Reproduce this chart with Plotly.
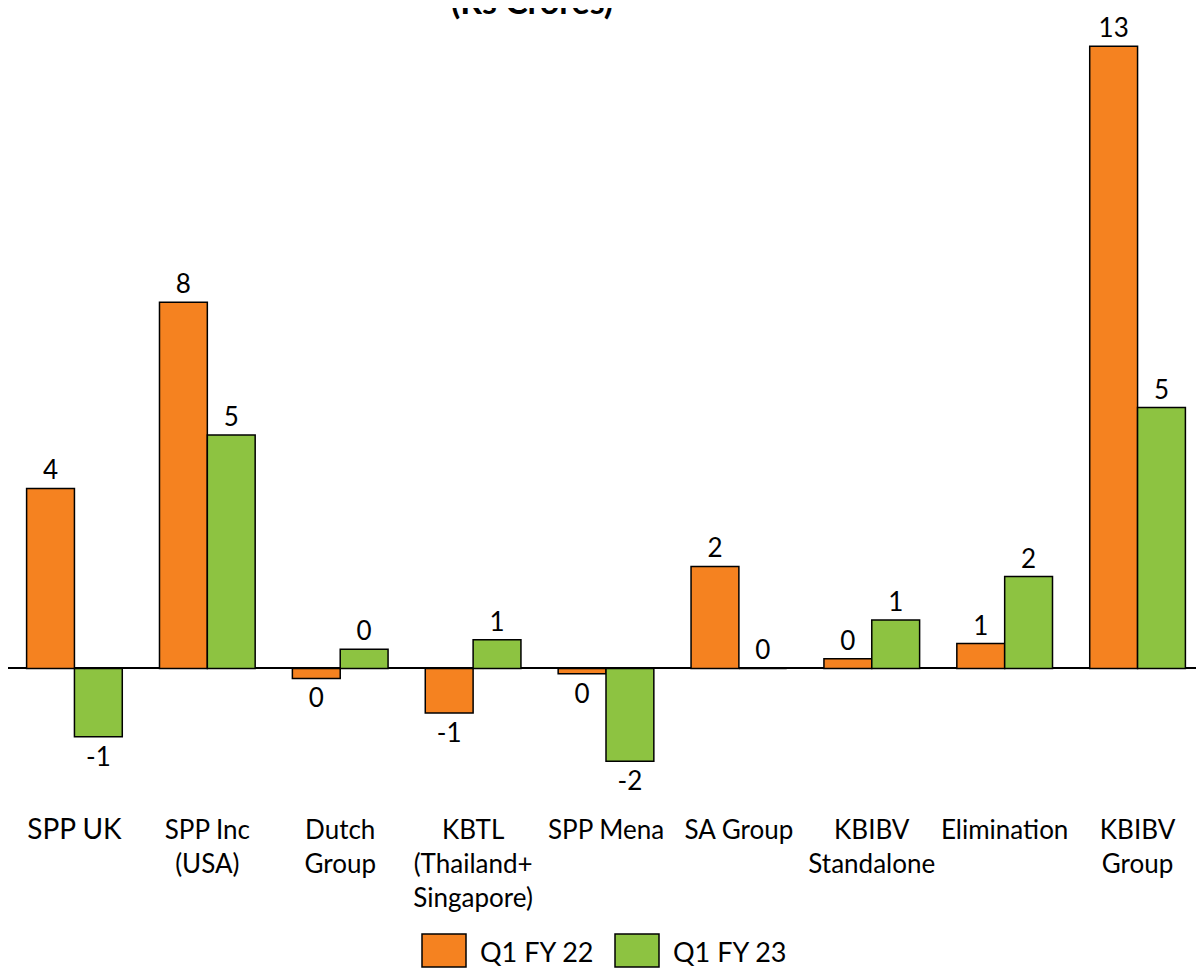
import plotly.graph_objects as go
import math

categories = ["SPP UK", "SPP Inc<br>(USA)", "Dutch<br>Group", "KBTL<br>(Thailand+<br>Singapore)",
              "SPP Mena", "SA Group", "KBIBV<br>Standalone", "Elimination", "KBIBV<br>Group"]
tick_labels = ["<span style='font-size:28px'>SPP UK</span>", "SPP Inc<br>(USA)", "Dutch<br>Group",
               "KBTL<br>(Thailand+<br>Singapore)", "SPP Mena", "SA Group", "KBIBV<br>Standalone",
               "Elimination", "KBIBV<br>Group"]
q1_fy22 = [3.76, 7.65, -0.21, -0.93, -0.11, 2.13, 0.20, 0.52, 13.0]
q1_fy23 = [-1.43, 4.88, 0.40, 0.60, -1.94, 0.0, 1.01, 1.92, 5.45]
series_names = ["Q1 FY 22", "Q1 FY 23"]
colors = ["#F58220", "#8DC341"]


def lab(v):
    return str(int(math.floor(v + 0.5)))


FONT = "Lato"
fig = go.Figure()
for name, vals, col in zip(series_names, [q1_fy22, q1_fy23], colors):
    fig.add_trace(go.Bar(
        x=categories, y=vals, name=name,
        marker=dict(color=col, line=dict(color="black", width=1.5)),
        text=[lab(v) for v in vals], textposition="outside",
        textfont=dict(family=FONT, size=26, color="black"),
        cliponaxis=False, showlegend=False,
    ))

# the page adds an 8px body margin, so the figure is sized 1196x966
fig.update_layout(
    width=1196, height=966,
    margin=dict(l=0, r=0, t=12, b=174),
    paper_bgcolor="white", plot_bgcolor="white",
    barmode="group", bargap=0.28, bargroupgap=0,
    font=dict(family=FONT, size=26, color="black"),
    xaxis=dict(tickmode="array", tickvals=categories, ticktext=tick_labels,
               showline=False, showgrid=False, ticks="", ticklabelstandoff=12,
               tickfont=dict(family=FONT, size=26, color="black")),
    yaxis=dict(range=[-2.75, 13.55], visible=True, showticklabels=False, showgrid=False,
               zeroline=True, zerolinecolor="black", zerolinewidth=1.5, showline=False, ticks=""),
    uniformtext=dict(minsize=10, mode="show"),
)

# title (partially cut off at the top, as in the reference)
fig.add_annotation(text="<b>(Rs Crores)</b>", xref="paper", yref="paper", x=0.4385, y=1.0255,
                   xanchor="center", yanchor="middle", showarrow=False,
                   font=dict(family=FONT, size=34, color="black"))

# custom legend (page pixel -> paper coordinates)
def px_x(p):
    return (p - 8) / 1196

def px_y(p):
    return (800 - p) / 780

legend_items = [(422, 466, 478), (615, 659, 671)]
for (x0, x1, tx), name, col in zip(legend_items, series_names, colors):
    fig.add_shape(type="rect", xref="paper", yref="paper",
                  x0=px_x(x0), x1=px_x(x1), y0=px_y(967), y1=px_y(934),
                  fillcolor=col, line=dict(color="black", width=1.5))
    fig.add_annotation(text=name, xref="paper", yref="paper", x=px_x(tx), y=px_y(951),
                       xanchor="left", yanchor="middle", showarrow=False,
                       font=dict(family=FONT, size=27, color="black"))

fig.write_html("out.html")
